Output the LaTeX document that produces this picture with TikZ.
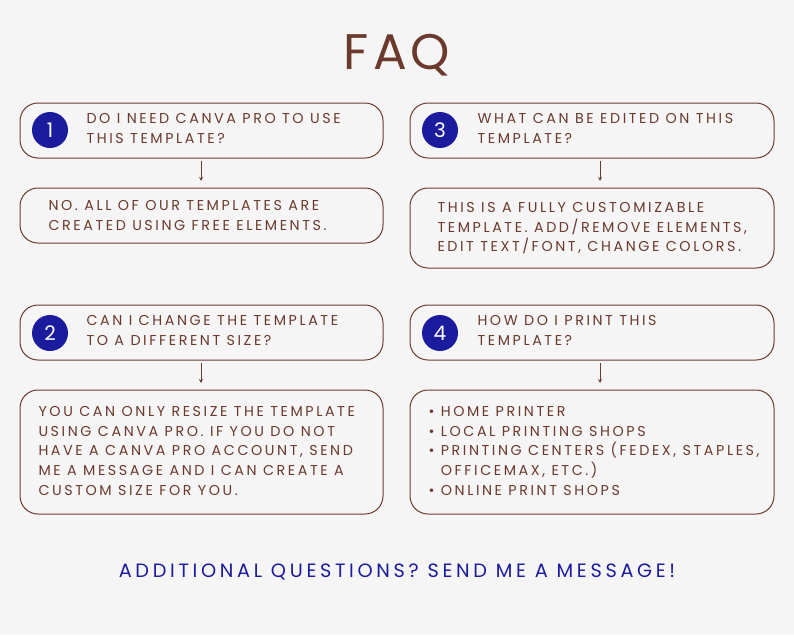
\documentclass[tikz,border=0pt]{standalone}
\usepackage{fontspec}
\setmainfont{Poppins}
\usetikzlibrary{positioning}
\definecolor{brown}{HTML}{6B3A2C}
\definecolor{navy}{HTML}{1B1B9E}
\definecolor{paper}{HTML}{F5F5F5}
\tikzset{
  box/.style={draw=brown, line width=1pt, rounded corners=18pt, minimum width=364pt, inner sep=0pt},
  num/.style={circle, fill=navy, text=white, minimum size=36pt, inner sep=0pt, font=\fontsize{20}{20}\selectfont},
  txt/.style={text=brown, align=left, anchor=north west, font=\fontsize{14.3}{19.6}\selectfont\addfontfeatures{LetterSpace=18}},
  link/.style={draw=brown, line width=0.8pt, -stealth}
}
\begin{document}
\begin{tikzpicture}[x=1pt,y=-1pt]
  \fill[paper] (0,0) rectangle (794,635);
  \useasboundingbox (0,0) rectangle (794,635);
  \node[text=brown, font=\fontsize{50}{50}\selectfont\addfontfeatures{LetterSpace=8}] (title) at (397,55) {FAQ};
  % questions
  \draw[box] (20,103) rectangle (383,158);
  \draw[box] (410,103) rectangle (774,158);
  \draw[box] (20,305) rectangle (383,360);
  \draw[box] (410,305) rectangle (774,360);
  % answers
  \draw[box] (20,188) rectangle (383,243);
  \draw[box] (410,188) rectangle (774,268);
  \draw[box] (20,390) rectangle (383,514);
  \draw[box] (410,390) rectangle (774,514);
  \node[num] (n1) at (50,130) {1};
  \node[num] (n3) at (440,130) {3};
  \node[num] (n2) at (50,333) {2};
  \node[num] (n4) at (440,333) {4};
  \node[txt] (q1) at (83,110) {DO I NEED CANVA PRO TO USE\\THIS TEMPLATE?};
  \node[txt] (q3) at (474,110) {WHAT CAN BE EDITED ON THIS\\TEMPLATE?};
  \node[txt] (q2) at (83,312) {CAN I CHANGE THE TEMPLATE\\TO A DIFFERENT SIZE?};
  \node[txt] (q4) at (474,312) {HOW DO I PRINT THIS\\TEMPLATE?};
  \node[txt] (a1) at (45,197) {NO. ALL OF OUR TEMPLATES ARE\\CREATED USING FREE ELEMENTS.};
  \node[txt] (a3) at (434,199) {THIS IS A FULLY CUSTOMIZABLE\\TEMPLATE. ADD/REMOVE ELEMENTS,\\EDIT TEXT/FONT, CHANGE COLORS.};
  \node[txt] (a2) at (35,403) {YOU CAN ONLY RESIZE THE TEMPLATE\\USING CANVA PRO. IF YOU DO NOT\\HAVE A CANVA PRO ACCOUNT, SEND\\ME A MESSAGE AND I CAN CREATE A\\CUSTOM SIZE FOR YOU.};
  \node[txt] (a4) at (425,403) {\textbullet\ HOME PRINTER\\\textbullet\ LOCAL PRINTING SHOPS\\\textbullet\ PRINTING CENTERS (FEDEX, STAPLES,\\\phantom{\textbullet\ }OFFICEMAX, ETC.)\\\textbullet\ ONLINE PRINT SHOPS};
  \coordinate (s1) at (201,161); \coordinate (e1) at (201,181);
  \coordinate (s3) at (600,161); \coordinate (e3) at (600,181);
  \coordinate (s2) at (201,363); \coordinate (e2) at (201,383);
  \coordinate (s4) at (600,363); \coordinate (e4) at (600,383);
  \draw[link] (s1) -- (e1);
  \draw[link] (s3) -- (e3);
  \draw[link] (s2) -- (e2);
  \draw[link] (s4) -- (e4);
  \node[text=navy, font=\fontsize{19.3}{19.3}\selectfont\addfontfeatures{LetterSpace=19}] (foot) at (397,572) {ADDITIONAL QUESTIONS? SEND ME A MESSAGE!};
\end{tikzpicture}
\end{document}
